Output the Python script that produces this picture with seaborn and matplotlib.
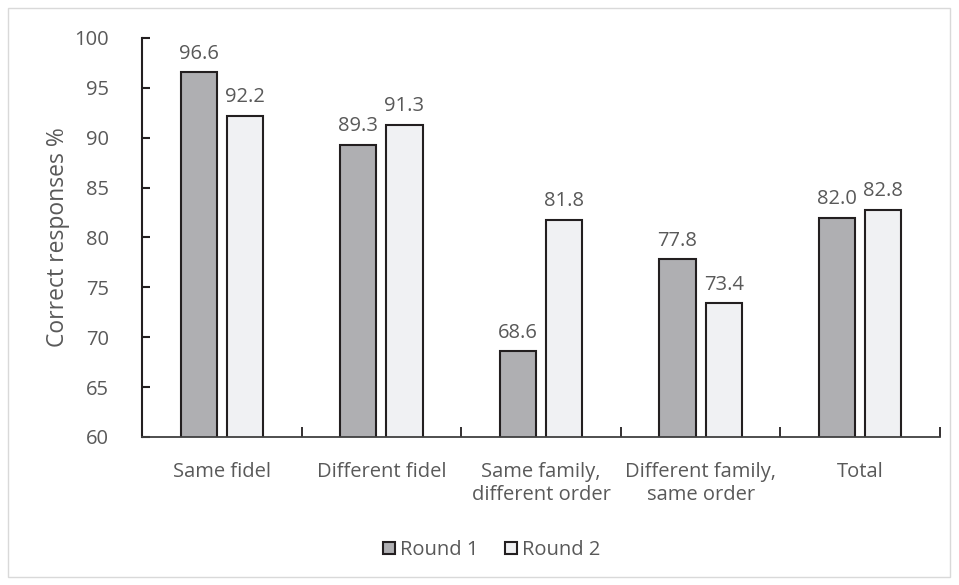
import matplotlib
matplotlib.use("Agg")
import matplotlib.pyplot as plt
import seaborn as sns
import pandas as pd
from matplotlib.patches import Rectangle

categories = ["Same fidel", "Different fidel", "Same family,\ndifferent order",
              "Different family,\nsame order", "Total"]
round1 = [96.6, 89.3, 68.6, 77.8, 82.0]
round2 = [92.2, 91.3, 81.8, 73.4, 82.8]
series = ["Round 1", "Round 2"]
yticks = [60, 65, 70, 75, 80, 85, 90, 95, 100]

df = pd.DataFrame({
    "cat": categories * 2,
    "val": round1 + round2,
    "series": [series[0]] * len(categories) + [series[1]] * len(categories),
})

sns.set_style("white")
plt.rcParams["font.family"] = ["Open Sans", "DejaVu Sans"]
txt = "#595959"
edge = "#231F20"
fs = 14.5

fig = plt.figure(figsize=(9.59, 5.85), dpi=100)
ax = fig.add_axes([142/959, 1 - 437/585, (940-142)/959, (437-38)/585])

sns.barplot(data=df, x="cat", y="val", hue="series", order=categories,
            hue_order=series, palette=["#AEAFB2", "#F0F1F3"], width=0.58,
            gap=0.22, edgecolor=edge, linewidth=1.5, ax=ax, legend=True)

for cont in ax.containers:
    ax.bar_label(cont, fmt="%.1f", padding=6, color=txt, fontsize=fs)

ax.set_ylim(60, 100)
ax.set_xlim(-0.5, len(categories) - 0.5)
ax.set_yticks(yticks)
ax.set_yticklabels([str(v) for v in yticks], color=txt, fontsize=fs)
ax.set_xticks(range(len(categories)))
ax.set_xticklabels(categories, color=txt, fontsize=fs, linespacing=1.2)
ax.tick_params(axis="x", length=0, pad=18)
ax.tick_params(axis="y", direction="in", length=6, width=1.5, color=edge, pad=24, left=True)
# boundary minor ticks on x axis
ax.set_xticks([i + 0.5 for i in range(-1, len(categories))], minor=True)
ax.tick_params(axis="x", which="minor", direction="in", length=7, width=1.3, color=edge, bottom=True)
ax.set_xlabel("")
ax.set_ylabel("Correct responses %", color=txt, fontsize=16.5, labelpad=3)

for s in ["top", "right"]:
    ax.spines[s].set_visible(False)
ax.spines["left"].set_color(edge)
ax.spines["left"].set_linewidth(1.5)
ax.spines["bottom"].set_color("#404040")
ax.spines["bottom"].set_linewidth(1.3)

leg = ax.legend(loc="center", bbox_to_anchor=((492 - 142) / (940 - 142), (437 - 550) / (437 - 38)),
                ncol=2, frameon=False, fontsize=fs, handlelength=0.6,
                handleheight=0.6, handletextpad=0.25, columnspacing=1.3,
                labelcolor=txt)

fig.patches.append(Rectangle((8/959, 8/585), (950-8)/959, (577-8)/585,
                             transform=fig.transFigure, fill=False,
                             edgecolor="#D9D9D9", linewidth=1))

fig.savefig("out.png", dpi=100)
